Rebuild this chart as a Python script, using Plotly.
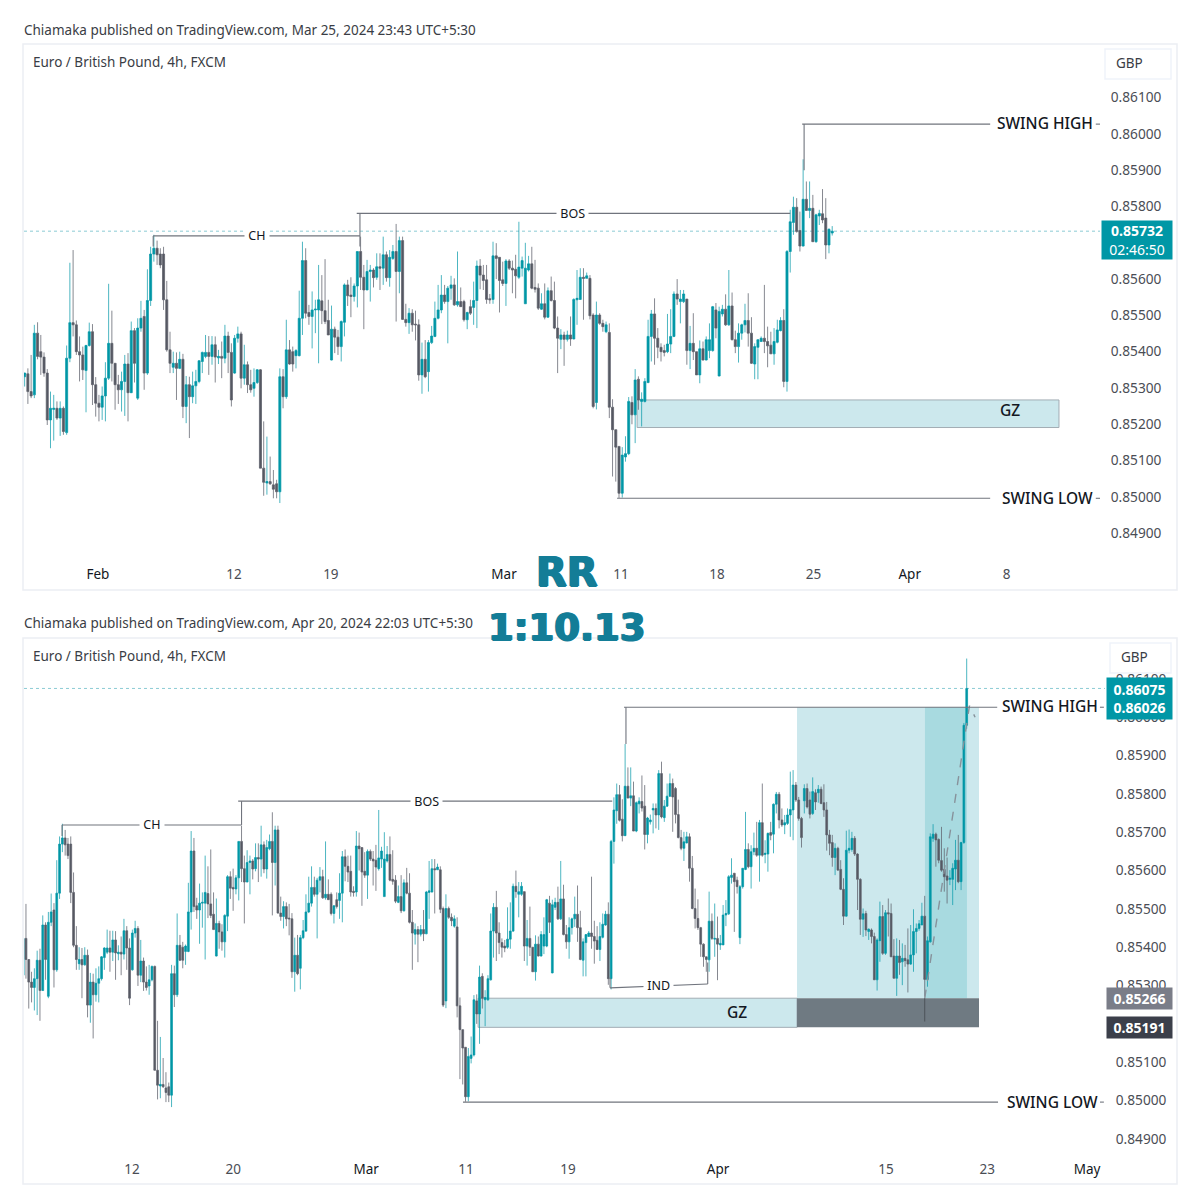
#!/usr/bin/env python
# -*- coding: utf-8 -*-
import plotly.graph_objects as go

# EUR/GBP 4h bars, prices in 1/100000 of a pound (85331 = 0.85331)
# the same bars feed both charts: top one stops at bar 250, bottom one starts at bar 26
opens = [
    85331, 85339, 85290, 85281, 85451, 85400, 85385, 85341, 85212, 85241, 85244, 85217, 85244, 85177, 85382, 85480,
    85474, 85400, 85391, 85348, 85417, 85455, 85309, 85258, 85247, 85278, 85327, 85423, 85368, 85309, 85295, 85318,
    85366, 85287, 85458, 85272, 85465, 85497, 85341, 85541, 85669, 85685, 85669, 85669, 85543, 85405, 85357, 85368,
    85354, 85379, 85249, 85309, 85276, 85306, 85318, 85373, 85387, 85398, 85387, 85419, 85383, 85387, 85382, 85443,
    85398, 85341, 85437, 85449, 85327, 85364, 85309, 85299, 85315, 85350, 85079, 85038, 85042, 85033, 85036, 85014,
    85331, 85276, 85405, 85400, 85389, 85389, 85492, 85651, 85508, 85497, 85515, 85515, 85540, 85513, 85486, 85377,
    85462, 85440, 85414, 85481, 85584, 85556, 85552, 85581, 85676, 85605, 85570, 85621, 85625, 85605, 85634, 85630,
    85667, 85604, 85657, 85676, 85621, 85706, 85489, 85480, 85506, 85476, 85474, 85336, 85379, 85345, 85425, 85442,
    85492, 85515, 85556, 85538, 85575, 85584, 85529, 85538, 85538, 85488, 85524, 85522, 85541, 85636, 85611, 85598,
    85546, 85544, 85664, 85660, 85598, 85588, 85650, 85630, 85627, 85605, 85630, 85532, 85625, 85642, 85577, 85575,
    85517, 85532, 85495, 85568, 85541, 85465, 85434, 85446, 85434, 85446, 85435, 85543, 85544, 85605, 85602, 85602,
    85501, 85260, 85501, 85478, 85455, 85453, 85247, 85185, 85139, 85010, 85110, 85119, 85260, 85226, 85324, 85263,
    85263, 85315, 85442, 85504, 85437, 85412, 85403, 85400, 85421, 85442, 85559, 85538, 85538, 85545, 85403, 85423,
    85400, 85336, 85408, 85377, 85403, 85403, 85515, 85333, 85504, 85517, 85474, 85526, 85433, 85414, 85451, 85474,
    85486, 85451, 85366, 85412, 85428, 85437, 85428, 85418, 85394, 85426, 85458, 85486, 85318, 85676, 85756, 85798,
    85734, 85691, 85820, 85789, 85795, 85703, 85774, 85780, 85768, 85694, 85727, 85758, 85762, 85745, 85853, 85738,
    85768, 85794, 85827, 85814, 85746, 85686, 85658, 85672, 85688, 85606, 85501, 85475, 85451, 85408, 85375, 85367,
    85468, 85421, 85423, 85406, 85406, 85484, 85487, 85582, 85593, 85575, 85425, 85558, 85603, 85655, 85610, 85649,
    85658, 85640, 85725, 85642, 85643, 85699, 85695, 85773, 85799, 85732, 85719, 85723, 85745, 85758, 85823, 85784,
    85736, 85782, 85814, 85784, 85749, 85803, 85803, 85812, 85777, 85758, 85693, 85673, 85634, 85658, 85603, 85551,
    85481, 85653, 85655, 85684, 85643, 85577, 85473, 85488, 85441, 85445, 85428, 85315, 85417, 85480, 85384, 85490,
    85488, 85377, 85319, 85377, 85362, 85371, 85367, 85356, 85380, 85441, 85449, 85458, 85481, 85316, 85414, 85684,
    85695, 85681, 85626, 85603, 85586, 85577, 85577, 85604, 85627, 85571, 85673, 85979,
]
highs = [
    85342, 85354, 85391, 85474, 85481, 85446, 85398, 85352, 85290, 85281, 85263, 85263, 85249, 85417, 85645, 85680,
    85486, 85442, 85414, 85419, 85480, 85476, 85330, 85281, 85304, 85371, 85587, 85513, 85368, 85336, 85345, 85391,
    85396, 85483, 85465, 85492, 85540, 85515, 85627, 85689, 85722, 85706, 85685, 85689, 85595, 85455, 85400, 85398,
    85400, 85394, 85333, 85331, 85345, 85350, 85377, 85400, 85446, 85443, 85443, 85442, 85405, 85428, 85474, 85455,
    85423, 85446, 85469, 85455, 85419, 85373, 85350, 85354, 85352, 85352, 85208, 85166, 85111, 85074, 85047, 85354,
    85352, 85488, 85432, 85414, 85407, 85568, 85703, 85685, 85529, 85566, 85543, 85639, 85611, 85655, 85543, 85527,
    85469, 85460, 85486, 85588, 85598, 85605, 85588, 85676, 85717, 85639, 85653, 85639, 85630, 85671, 85671, 85717,
    85676, 85680, 85694, 85752, 85717, 85717, 85532, 85520, 85517, 85513, 85489, 85425, 85432, 85432, 85471, 85538,
    85584, 85611, 85584, 85581, 85609, 85602, 85676, 85577, 85543, 85510, 85543, 85593, 85651, 85655, 85639, 85639,
    85559, 85703, 85699, 85660, 85648, 85655, 85655, 85651, 85667, 85758, 85662, 85700, 85664, 85689, 85653, 85588,
    85561, 85588, 85577, 85607, 85593, 85497, 85462, 85455, 85458, 85497, 85547, 85625, 85630, 85630, 85618, 85611,
    85506, 85538, 85506, 85488, 85483, 85478, 85269, 85185, 85139, 85137, 85167, 85275, 85277, 85352, 85332, 85288,
    85327, 85488, 85515, 85547, 85465, 85423, 85419, 85504, 85517, 85566, 85600, 85570, 85570, 85545, 85471, 85506,
    85400, 85431, 85428, 85442, 85478, 85526, 85534, 85524, 85529, 85558, 85625, 85563, 85458, 85478, 85477, 85532,
    85561, 85495, 85423, 85434, 85442, 85584, 85469, 85455, 85465, 85488, 85495, 85517, 85680, 85791, 85827, 85823,
    85786, 85930, 85869, 85869, 85832, 85780, 85791, 85848, 85823, 85740, 85746, 85775, 85775, 85862, 85884, 85784,
    85827, 85853, 85840, 85818, 85785, 85706, 85701, 85701, 85697, 85638, 85553, 85525, 85453, 85410, 85375, 85545,
    85488, 85514, 85480, 85432, 85510, 85523, 85588, 85632, 85593, 85584, 85562, 85606, 85753, 85671, 85666, 85699,
    85727, 85732, 85827, 85679, 85699, 85727, 85775, 85805, 85805, 85762, 85745, 85762, 85858, 85862, 85831, 85792,
    85740, 85825, 85827, 85806, 85843, 85812, 85823, 85819, 85825, 85779, 85706, 85693, 85671, 85662, 85627, 85580,
    85704, 85707, 85701, 85690, 85645, 85580, 85501, 85495, 85449, 85449, 85438, 85423, 85519, 85510, 85497, 85527,
    85514, 85421, 85423, 85419, 85410, 85406, 85449, 85458, 85499, 85462, 85471, 85516, 85534, 85428, 85697, 85721,
    85699, 85684, 85714, 85658, 85634, 85601, 85619, 85680, 85693, 85675, 85985, 86153,
]
lows = [
    85304, 85256, 85272, 85272, 85379, 85336, 85331, 85198, 85134, 85155, 85212, 85168, 85171, 85171, 85371, 85442,
    85391, 85318, 85322, 85233, 85414, 85253, 85221, 85208, 85212, 85208, 85322, 85318, 85240, 85256, 85235, 85223,
    85208, 85286, 85315, 85267, 85455, 85295, 85336, 85526, 85648, 85639, 85630, 85515, 85400, 85341, 85341, 85267,
    85352, 85217, 85203, 85162, 85258, 85256, 85313, 85341, 85382, 85336, 85364, 85315, 85366, 85327, 85368, 85341,
    85249, 85339, 85425, 85299, 85309, 85286, 85287, 85276, 85311, 85079, 85003, 85006, 85033, 84996, 84996, 84983,
    85244, 85270, 85364, 85345, 85354, 85387, 85446, 85492, 85474, 85409, 85451, 85368, 85476, 85476, 85446, 85376,
    85396, 85391, 85373, 85442, 85526, 85495, 85538, 85522, 85570, 85462, 85570, 85538, 85577, 85598, 85570, 85584,
    85593, 85579, 85653, 85483, 85561, 85488, 85469, 85449, 85455, 85431, 85320, 85284, 85327, 85290, 85421, 85440,
    85489, 85506, 85532, 85423, 85543, 85526, 85524, 85524, 85483, 85462, 85501, 85474, 85465, 85572, 85570, 85532,
    85532, 85532, 85600, 85508, 85581, 85526, 85625, 85561, 85547, 85600, 85607, 85532, 85621, 85572, 85563, 85515,
    85515, 85489, 85493, 85538, 85462, 85341, 85407, 85361, 85428, 85416, 85434, 85474, 85543, 85488, 85602, 85489,
    85244, 85241, 85474, 85455, 85451, 85217, 85056, 85042, 84997, 84998, 85097, 85115, 85200, 85148, 85240, 85194,
    85260, 85313, 85373, 85364, 85382, 85373, 85387, 85396, 85396, 85440, 85529, 85478, 85534, 85364, 85352, 85377,
    85336, 85313, 85376, 85376, 85382, 85400, 85437, 85332, 85497, 85471, 85471, 85431, 85396, 85370, 85433, 85453,
    85414, 85366, 85324, 85324, 85428, 85396, 85357, 85394, 85364, 85423, 85456, 85302, 85290, 85618, 85722, 85728,
    85676, 85690, 85789, 85768, 85703, 85700, 85749, 85754, 85655, 85671, 85720, 85697, 85710, 85706, 85736, 85727,
    85766, 85792, 85701, 85723, 85684, 85653, 85625, 85671, 85571, 85499, 85449, 85445, 85375, 85349, 85336, 85336,
    85419, 85375, 85314, 85393, 85406, 85455, 85484, 85566, 85440, 85540, 85408, 85553, 85601, 85606, 85553, 85640,
    85636, 85571, 85636, 85619, 85597, 85679, 85645, 85749, 85710, 85714, 85695, 85719, 85688, 85679, 85779, 85730,
    85660, 85749, 85762, 85736, 85745, 85758, 85777, 85773, 85740, 85652, 85640, 85610, 85588, 85601, 85549, 85458,
    85480, 85645, 85649, 85638, 85497, 85432, 85427, 85429, 85419, 85410, 85315, 85287, 85362, 85380, 85380, 85428,
    85375, 85319, 85273, 85328, 85301, 85349, 85282, 85354, 85336, 85384, 85443, 85458, 85271, 85297, 85412, 85675,
    85610, 85619, 85597, 85545, 85514, 85562, 85510, 85549, 85567, 85549, 85670, 85970,
]
closes = [
    85341, 85290, 85278, 85451, 85387, 85385, 85341, 85212, 85244, 85244, 85217, 85244, 85180, 85382, 85480, 85474,
    85400, 85391, 85350, 85417, 85455, 85309, 85258, 85247, 85278, 85327, 85423, 85368, 85309, 85295, 85318, 85366,
    85287, 85458, 85368, 85465, 85492, 85341, 85541, 85669, 85685, 85667, 85639, 85543, 85405, 85368, 85368, 85354,
    85379, 85249, 85309, 85276, 85306, 85318, 85375, 85398, 85398, 85387, 85419, 85385, 85387, 85382, 85443, 85398,
    85267, 85437, 85449, 85327, 85364, 85309, 85295, 85315, 85350, 85079, 85040, 85042, 85036, 85021, 85014, 85331,
    85276, 85405, 85366, 85366, 85403, 85492, 85651, 85506, 85497, 85515, 85517, 85543, 85513, 85483, 85446, 85462,
    85440, 85414, 85483, 85584, 85554, 85552, 85581, 85676, 85605, 85570, 85621, 85625, 85604, 85634, 85630, 85667,
    85604, 85660, 85676, 85621, 85706, 85489, 85480, 85506, 85474, 85474, 85336, 85379, 85331, 85425, 85443, 85492,
    85515, 85556, 85538, 85575, 85584, 85529, 85538, 85524, 85488, 85508, 85506, 85541, 85636, 85611, 85596, 85544,
    85543, 85664, 85657, 85596, 85588, 85650, 85630, 85625, 85609, 85633, 85651, 85630, 85642, 85575, 85572, 85520,
    85532, 85495, 85568, 85541, 85465, 85437, 85446, 85434, 85446, 85435, 85544, 85547, 85605, 85602, 85609, 85499,
    85249, 85501, 85478, 85469, 85474, 85247, 85185, 85137, 85010, 85115, 85119, 85263, 85226, 85322, 85267, 85269,
    85318, 85442, 85504, 85437, 85412, 85400, 85398, 85421, 85442, 85559, 85545, 85545, 85559, 85403, 85423, 85400,
    85336, 85408, 85377, 85433, 85433, 85524, 85465, 85511, 85517, 85474, 85526, 85433, 85414, 85451, 85474, 85486,
    85451, 85368, 85414, 85433, 85437, 85428, 85416, 85394, 85428, 85460, 85486, 85318, 85676, 85758, 85798, 85731,
    85691, 85820, 85789, 85795, 85703, 85777, 85781, 85763, 85694, 85737, 85732, 85762, 85745, 85853, 85740, 85768,
    85794, 85827, 85792, 85746, 85686, 85658, 85675, 85688, 85606, 85501, 85475, 85451, 85408, 85375, 85368, 85468,
    85423, 85423, 85408, 85410, 85484, 85488, 85584, 85588, 85571, 85558, 85558, 85606, 85655, 85610, 85649, 85658,
    85640, 85725, 85640, 85645, 85697, 85692, 85773, 85799, 85732, 85719, 85725, 85745, 85759, 85823, 85784, 85736,
    85686, 85814, 85766, 85747, 85806, 85779, 85812, 85775, 85758, 85693, 85671, 85634, 85658, 85601, 85551, 85481,
    85653, 85658, 85684, 85643, 85577, 85473, 85487, 85445, 85447, 85428, 85315, 85419, 85480, 85384, 85490, 85487,
    85375, 85319, 85377, 85360, 85371, 85365, 85356, 85380, 85441, 85449, 85461, 85481, 85316, 85417, 85688, 85695,
    85680, 85627, 85601, 85584, 85575, 85580, 85606, 85627, 85571, 85673, 85979, 86075,
]
assert len(opens) == len(highs) == len(lows) == len(closes)
bar_index = list(range(len(opens)))
TOP_LAST_BAR = 251
BOTTOM_FIRST_BAR = 26

top_price_ticks = [0.849, 0.850, 0.851, 0.852, 0.853, 0.854, 0.855, 0.856, 0.858, 0.859, 0.860, 0.861]
bottom_price_ticks = [0.849, 0.850, 0.851, 0.853, 0.854, 0.855, 0.856, 0.857, 0.858, 0.859, 0.860, 0.861]

top_tick_bars = [22.7, 64.8, 94.8, 148.4, 184.6, 214.3, 244.2, 274, 304]
top_tick_text = ["Feb", "12", "19", "Mar", "11", "18", "25", "Apr", "8"]
bottom_tick_bars = [64.9, 101, 148.5, 184.2, 220.6, 274.2, 334.2, 370.3, 406]
bottom_tick_text = ["12", "20", "Mar", "11", "19", "Apr", "15", "23", "May"]

# levels drawn on the charts
top_last_price = 0.85732
bottom_last_price = 0.86075
top_swing_high = 0.86027
bottom_swing_high = 0.86026
swing_low = 0.84996
ch_level = 0.85719
bos_level = 0.85781
gz_top = 0.85267
gz_bottom = 0.85191
ind_levels = [0.85294, 0.85304]
trade_bars = [348, 364, 366]
trade_prices = [0.85266, 0.86030, 0.86000]

UP = "#0097a6"
DOWN = "#555862"
UP_WICK = "rgba(0,151,166,0.7)"
DOWN_WICK = "rgba(93,96,107,0.75)"
DRAW = "#70747d"
FONT = "Noto Sans"


def px(x):
    return x / 1200


def py(y):
    return 1 - y / 1200


def prices(values, a, b):
    return [v / 100000 for v in values[a:b]]


def candles(a, b, xaxis, yaxis):
    return go.Candlestick(
        x=bar_index[a:b],
        open=prices(opens, a, b),
        high=prices(highs, a, b),
        low=prices(lows, a, b),
        close=prices(closes, a, b),
        xaxis=xaxis,
        yaxis=yaxis,
        whiskerwidth=0,
        showlegend=False,
        hoverinfo="skip",
        increasing=dict(line=dict(color=UP_WICK, width=1), fillcolor=UP),
        decreasing=dict(line=dict(color=DOWN_WICK, width=1), fillcolor=DOWN),
    )


fig = go.Figure()
fig.add_trace(candles(0, TOP_LAST_BAR, "x", "y"))
fig.add_trace(candles(BOTTOM_FIRST_BAR, len(opens), "x2", "y2"))
fig.add_trace(go.Scatter(x=trade_bars, y=trade_prices, xaxis="x2", yaxis="y2", mode="lines",
                         line=dict(color="#87929b", width=1.4, dash="dash"),
                         showlegend=False, hoverinfo="skip"))

shapes = []


def line(ax, x0, y0, x1, y1, color=DRAW, width=1.1, dash="solid", layer="above"):
    yref = "y" if ax == 1 else "y2"
    xref = "x" if ax == 1 else "x2"
    shapes.append(dict(type="line", xref=xref, yref=yref, x0=x0, y0=y0, x1=x1, y1=y1, layer=layer,
                       line=dict(color=color, width=width, dash=dash)))


def rect(ax, x0, y0, x1, y1, fill, border=None):
    yref = "y" if ax == 1 else "y2"
    xref = "x" if ax == 1 else "x2"
    shapes.append(dict(type="rect", xref=xref, yref=yref, x0=x0, y0=y0, x1=x1, y1=y1, layer="below",
                       fillcolor=fill, line=dict(color=border or fill, width=1 if border else 0)))


# panel frames and currency buttons
for top, bottom in [(44, 590), (638, 1184)]:
    shapes.append(dict(type="rect", xref="paper", yref="paper", x0=px(23), x1=px(1177), y0=py(bottom), y1=py(top),
                       layer="below", line=dict(color="#eceef3", width=1.5)))
for left, top in [(1105, 49), (1110, 643)]:
    shapes.append(dict(type="rect", xref="paper", yref="paper", x0=px(left), x1=px(1171), y0=py(top + 30), y1=py(top),
                       layer="below", line=dict(color="#f0f3fa", width=1.5)))

# top chart drawings
line(1, -0.2, top_last_price, 332.9, top_last_price, color="#8ccbd4", width=1, dash="dot", layer="below")
line(1, 39.8, ch_level, 103.8, ch_level)
line(1, 39.8, ch_level, 39.8, 0.85690)
line(1, 102.8, bos_level, 237, bos_level)
line(1, 103.8, bos_level, 103.8, 0.85690)
line(1, 240.7, top_swing_high, 298.9, top_swing_high)
line(1, 241.3, top_swing_high, 241.3, 0.85900)
line(1, 183.4, swing_low, 298.9, swing_low)
line(1, 331.6, top_swing_high, 332.9, top_swing_high)
line(1, 331.6, swing_low, 332.9, swing_low)
rect(1, 189.6, gz_bottom, 320.2, gz_top, "#cce8ed", "#a2adb4")

# bottom chart drawings
rect(2, 188.5, gz_bottom, 302.4, gz_top, "#cce8ed", "#a2adb4")
rect(2, 302.4, gz_top, 367.4, bottom_swing_high, "#cce8ed")
rect(2, 348.1, gz_top, 363.1, bottom_swing_high, "#a8dae0")
rect(2, 302.4, gz_bottom, 367.4, gz_top, "#6f7a82")
line(2, 26.3, bottom_last_price, 412.4, bottom_last_price, color="#8ccbd4", width=1, dash="dot", layer="below")
line(2, 39.9, ch_level, 104, ch_level)
line(2, 39.9, ch_level, 39.9, 0.85690)
line(2, 102.8, bos_level, 236.4, bos_level)
line(2, 104, bos_level, 104, ch_level)
line(2, 240.6, bottom_swing_high, 373.9, bottom_swing_high)
line(2, 241.3, bottom_swing_high, 241.3, 0.85930)
line(2, 183.1, swing_low, 374.2, swing_low)
line(2, 235.6, ind_levels[0], 270.5, ind_levels[1])
line(2, 270.5, ind_levels[1], 270.5, 0.85360)
line(2, 235.6, ind_levels[0], 235.6, 0.85320)
line(2, 348, gz_top, 348, 0.85206, color="#4f565c")
line(2, 410.6, bottom_swing_high, 412, bottom_swing_high)
line(2, 410.6, swing_low, 412, swing_low)

annotations = []


def paper_text(x, y, text, size=13.5, color="#3a3d45", anchor="left", family=FONT, shadow=None):
    font = dict(family=family, size=size, color=color)
    if shadow:
        font["shadow"] = shadow
    annotations.append(dict(xref="paper", yref="paper", x=px(x), y=py(y), text=text, showarrow=False,
                            xanchor=anchor, yanchor="middle", font=font, borderpad=0, borderwidth=0))


def data_text(ax, x, y, text, size=13, color="#131722", bg="#ffffff", weight=400, yshift=0):
    annotations.append(dict(xref="x" if ax == 1 else "x2", yref="y" if ax == 1 else "y2", x=x, y=y, text=text,
                            showarrow=False, bgcolor=bg, borderpad=0, xanchor="center", yanchor="middle",
                            yshift=yshift, font=dict(family=FONT, size=size, color=color, weight=weight)))


def price_box(left, top, right, bottom, text, bg):
    annotations.append(dict(xref="paper", yref="paper", x=px(left), y=py((top + bottom) / 2), text=text,
                            showarrow=False, xanchor="left", yanchor="middle", align="center",
                            width=right - left, height=bottom - top, bgcolor=bg, borderpad=0,
                            font=dict(family=FONT, size=14, color="#ffffff")))


paper_text(24, 30, "Chiamaka published on TradingView.com, Mar 25, 2024 23:43 UTC+5:30")
paper_text(24, 623, "Chiamaka published on TradingView.com, Apr 20, 2024 22:03 UTC+5:30")
paper_text(33, 62, "Euro / British Pound, 4h, FXCM")
paper_text(33, 656, "Euro / British Pound, 4h, FXCM")
paper_text(1129, 63, "GBP", anchor="center")
paper_text(1134, 657, "GBP", anchor="center")

data_text(1, 71.9, ch_level, "&nbsp;CH&nbsp;", size=12.5)
data_text(1, 169.5, bos_level, "&nbsp;BOS&nbsp;", size=12.5)
data_text(2, 72, ch_level, "&nbsp;CH&nbsp;", size=12.5)
data_text(2, 169.9, bos_level, "&nbsp;BOS&nbsp;", size=12.5)
data_text(2, 252.8, 0.85299, "&nbsp;IND&nbsp;", size=12.5)
data_text(1, 315.9, top_swing_high, "SWING HIGH", size=15.5, weight=500, yshift=1)
data_text(1, 316.5, swing_low, "SWING LOW", size=15.5, weight=500)
data_text(2, 392.8, bottom_swing_high, "SWING HIGH", size=15.5, weight=500, yshift=1)
data_text(2, 393.5, swing_low, "SWING LOW", size=15.5, weight=500)
data_text(1, 305, 0.85240, "GZ", size=15.5, bg="rgba(0,0,0,0)", weight=500)
data_text(2, 281, 0.85232, "GZ", size=15.5, bg="rgba(0,0,0,0)", weight=500)

price_box(1101, 221, 1171, 259, "<b>0.85732</b><br>02:46:50", UP)
price_box(1106, 678, 1171, 719, "<b>0.86075</b><br><b>0.86026</b>", UP)
price_box(1106, 988, 1171, 1009, "<b>0.85266</b>", "#7a7d88")
price_box(1106, 1017, 1171, 1038, "<b>0.85191</b>", "#3b3f4a")

heavy = "1px 0 0 #137d97, -1px 0 0 #137d97, 0 1px 0 #137d97"
paper_text(567, 572, "<b>RR</b>", size=40, color="#137d97", anchor="center", family="DejaVu Sans", shadow=heavy)
paper_text(567, 627, "<b>1:10.13</b>", size=37, color="#137d97", anchor="center", family="DejaVu Sans", shadow=heavy)


def month_style(labels):
    return ['<span style="color:#131722">%s</span>' % t if t[0].isalpha() else t for t in labels]


x_common = dict(showgrid=False, zeroline=False, showline=False, ticks="outside", ticklen=2, tickangle=0,
                tickcolor="rgba(0,0,0,0)", rangeslider=dict(visible=False),
                tickfont=dict(family=FONT, size=13.5, color="#4a4d55"))
y_common = dict(showgrid=False, zeroline=False, showline=False, side="right", tickmode="array",
                tickformat=".5f", ticks="outside", ticklen=7, tickcolor="rgba(0,0,0,0)",
                tickfont=dict(family=FONT, size=13.7, color="#4a4d55"))

fig.update_layout(
    width=1200,
    height=1200,
    margin=dict(l=0, r=0, t=0, b=0),
    paper_bgcolor="#ffffff",
    plot_bgcolor="rgba(0,0,0,0)",
    showlegend=False,
    boxgap=0.08,
    shapes=shapes,
    annotations=annotations,
    xaxis=dict(domain=[px(24), px(1100)], range=[-0.2, 332.9], anchor="y", tickmode="array",
               tickvals=top_tick_bars, ticktext=month_style(top_tick_text), **x_common),
    yaxis=dict(domain=[py(560), py(45)], range=[0.84826, 0.86245], anchor="x", tickvals=top_price_ticks, **y_common),
    xaxis2=dict(domain=[px(24), px(1105)], range=[26.3, 412.4], anchor="y2", tickmode="array",
                tickvals=bottom_tick_bars, ticktext=month_style(bottom_tick_text), **x_common),
    yaxis2=dict(domain=[py(1155), py(639)], range=[0.84858, 0.86204], anchor="x2", tickvals=bottom_price_ticks,
                **y_common),
)

fig.write_html("out.html", config=dict(displayModeBar=False), post_script="document.body.style.margin='0';")
